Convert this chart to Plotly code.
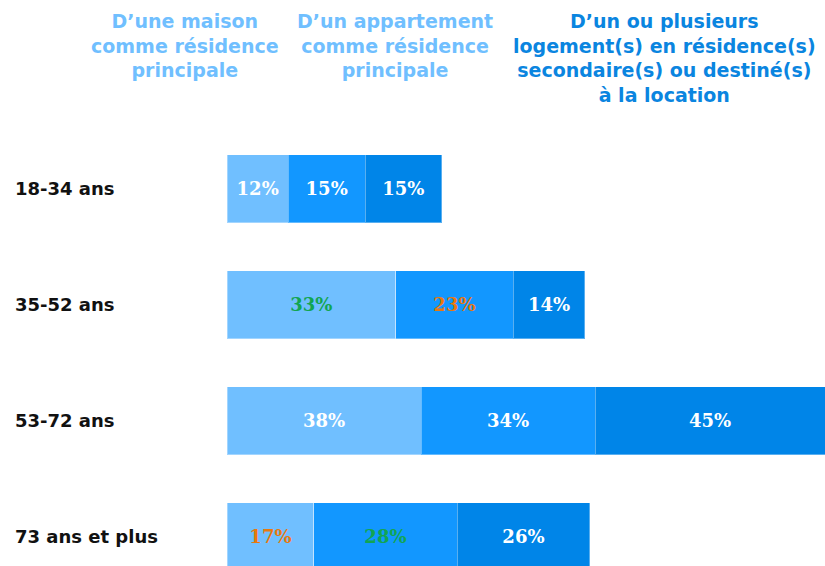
import plotly.graph_objects as go

categories = ["18-34 ans", "35-52 ans", "53-72 ans", "73 ans et plus"]
series_names = [
    "D’une maison<br>comme résidence<br>principale",
    "D’un appartement<br>comme résidence<br>principale",
    "D’un ou plusieurs<br>logement(s) en résidence(s)<br>secondaire(s) ou destiné(s)<br>à la location",
]
maison = [12, 33, 38, 17]
appartement = [15, 23, 34, 28]
plusieurs = [15, 14, 45, 26]

bar_colors = ["#70BFFF", "#1297FF", "#0085E8"]
header_colors = ["#70BFFF", "#70BFFF", "#0A85E0"]
GREEN = "#12A552"
ORANGE = "#E8780E"
WHITE = "#FFFFFF"
label_colors = [
    [WHITE, GREEN, WHITE, ORANGE],
    [WHITE, ORANGE, WHITE, GREEN],
    [WHITE, WHITE, WHITE, WHITE],
]

W, H = 825, 566
X0 = 227
X1 = W
XMAX = 117
TOP = 130.5
UNITS = (H - TOP) / 116.0

fig = go.Figure()
for vals, name, col, tcol in zip([maison, appartement, plusieurs], series_names, bar_colors, label_colors):
    fig.add_trace(go.Bar(
        y=categories, x=vals, orientation="h", name=name,
        marker=dict(color=col, line=dict(color="rgba(255,255,255,0.35)", width=1)),
        text=[f"{v}%" for v in vals], textposition="inside", insidetextanchor="middle",
        textfont=dict(family="DejaVu Serif", size=18, color=tcol),
        texttemplate="<b>%{text}</b>",
        width=0.586, showlegend=False, hoverinfo="skip",
    ))

header_centers = [185, 395, 664]
for name, col, cx in zip(series_names, header_colors, header_centers):
    fig.add_annotation(
        text=f"<b>{name}</b>", xref="paper", yref="paper",
        x=(cx - X0) / (X1 - X0), y=1, yshift=TOP - 7,
        xanchor="center", yanchor="top", align="center", showarrow=False,
        font=dict(family="DejaVu Sans", size=19, color=col),
    )

for c in categories:
    fig.add_annotation(
        text=f"<b>{c}</b>", xref="paper", yref="y", x=(13 - X0) / (X1 - X0), y=c,
        xanchor="left", yanchor="middle", showarrow=False,
        font=dict(family="DejaVu Sans", size=18, color="#111111"),
    )

fig.update_layout(
    width=W, height=H, barmode="stack",
    margin=dict(l=X0, r=0, t=TOP, b=0),
    plot_bgcolor="white", paper_bgcolor="white",
    xaxis=dict(range=[0, XMAX], visible=False, fixedrange=True),
    yaxis=dict(range=[UNITS - 0.5, -0.5], showticklabels=False, showgrid=False, zeroline=False, fixedrange=True),
)
fig.write_html(
    "out.html",
    config={"displayModeBar": False},
    post_script="document.body.style.margin='0';document.body.style.overflow='hidden';"
    "document.documentElement.style.overflow='hidden';",
)
